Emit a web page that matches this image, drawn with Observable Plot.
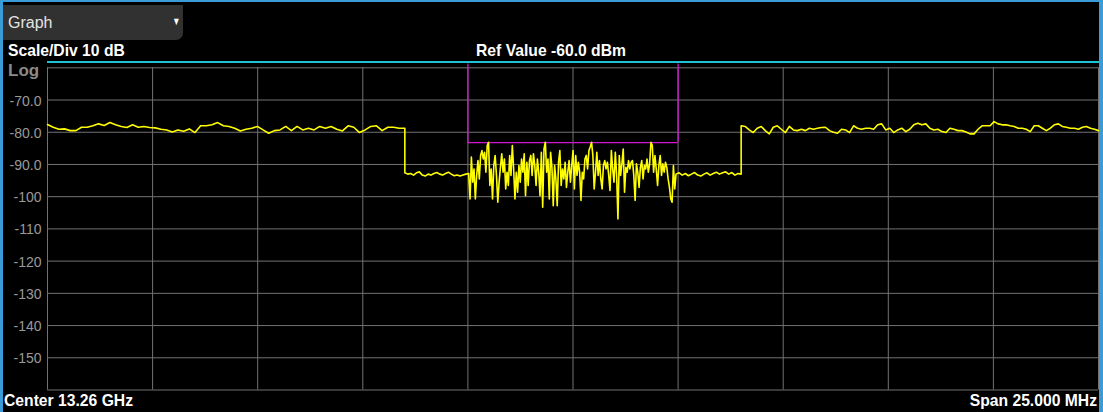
<!DOCTYPE html>
<html>
<head>
<meta charset="utf-8">
<script src="https://cdn.jsdelivr.net/npm/d3@7"></script>
<script src="https://cdn.jsdelivr.net/npm/@observablehq/plot@0.6"></script>
<style>
  html, body { margin: 0; padding: 0; background: #000; }
  #root { position: relative; width: 1103px; height: 412px; background: #000; overflow: hidden;
          font-family: "Liberation Sans", Arial, sans-serif; }
  .abs { position: absolute; }
  .hdr { color: #fff; font-weight: bold; font-size: 15.7px; line-height: 16px; white-space: nowrap; }
  #chart { position: absolute; left: 0; top: 60px; }
</style>
</head>
<body>
<div id="root">
  <div class="abs" style="left:0;top:0;width:3px;height:412px;background:#3b9bd6"></div>
  <div class="abs" style="left:0;top:0;width:1103px;height:2px;background:#3b9bd6"></div>
  <div class="abs" style="left:1099px;top:0;width:4px;height:412px;background:#3b9bd6"></div>
  <div class="abs" style="left:3px;top:5px;width:180px;height:35px;background:#313131;border-bottom-right-radius:7px"></div>
  <div class="abs" style="left:8px;top:14px;color:#e4e4e4;font-size:16px;line-height:17px">Graph</div>
  <div class="abs" style="left:171px;top:15px;color:#fff;font-size:11px;line-height:12px;transform:scaleX(0.75)">&#9660;</div>
  <div class="abs hdr" style="left:8px;top:43px">Scale/Div 10 dB</div>
  <div class="abs hdr" style="left:476px;top:43px">Ref Value -60.0 dBm</div>
  <div class="abs" style="left:47px;top:61px;width:1052px;height:2px;background:#1cc3d4"></div>
  <div class="abs" style="left:8px;top:62px;color:#8a8a8a;font-weight:bold;font-size:17px;line-height:18px">Log</div>
  <div id="chart"></div>
  <div class="abs hdr" style="left:4px;top:393px">Center 13.26 GHz</div>
  <div class="abs hdr" style="right:6px;top:393px">Span 25.000 MHz</div>
</div>
<script>
// Frequency offsets from center (MHz), span 25 MHz
const xGrid = [-12.5, -10, -7.5, -5, -2.5, 0, 2.5, 5, 7.5, 10, 12.5];
const yGrid = [-60, -70, -80, -90, -100, -110, -120, -130, -140, -150, -160];
const yTicks = [-70, -80, -90, -100, -110, -120, -130, -140, -150];
const yTickLabels = ["-70.0", "-80.0", "-90.0", "-100", "-110", "-120", "-130", "-140", "-150"];

// Channel mask (magenta)
const maskEdges = [-2.5, 2.5];
const maskLevel = -83.2;
const maskTop = -58.8;

// Trace segments: [start MHz, end MHz]
const segLeftRange = [-12.5, -4.0];
const segMidLeftRange = [-4.0, -2.48];
const segCenterRange = [-2.48, 2.42];
const segMidRightRange = [2.45, 4.0];
const segRightRange = [4.0, 12.5];

const levelsLeft = [-77.6, -78.45, -79.07, -78.96, -79.5, -79.5, -78.45, -78.45, -78.0, -77.4, -77.9, -77.0, -77.7, -78.2, -78.55, -77.7,
  -78.45, -78.2, -78.55, -78.65, -79.07, -79.28, -79.9, -79.28, -79.7, -78.96, -80.1, -78.0, -78.0, -77.7, -77.0, -78.0,
  -78.2, -78.75, -79.6, -79.07, -78.75, -78.2, -79.28, -80.3, -79.5, -79.28, -78.2, -79.5, -78.2, -79.28, -78.75, -79.28,
  -78.2, -78.75, -78.2, -79.07, -79.6, -78.0, -78.45, -80.1, -79.28, -78.2, -78.0, -79.5, -78.45, -78.45, -78.75, -78.75];

const levelsMidLeft = [-92.6, -93.0, -92.8, -93.3, -92.6, -92.3, -93.3, -93.6, -93.0, -93.3, -92.8, -92.5, -93.0, -93.3, -92.8, -92.4,
  -93.0, -93.5, -93.3, -93.6, -93.3, -93.0, -92.8];

const levelsCenter = [
  -93.4, -100.7, -87.7, -95.5, -91.4, -100.7, -93.4, -88.8, -94.5, -87.2, -85.7, -88.3, -86.2, -92.4, -84.1, -83.1,
  -96.5, -91.4, -100.7, -90.3, -87.2, -93.4, -101.7, -95.5, -90.9, -86.7, -92.4, -88.3, -97.6, -92.4, -96.5, -87.2,
  -93.4, -84.1, -91.4, -100.7, -92.4, -98.6, -90.3, -95.5, -88.3, -92.4, -86.7, -99.7, -89.3, -96.5, -88.8, -87.2,
  -93.4, -86.7, -90.3, -96.5, -88.3, -92.4, -99.7,
  -86.2, -103.3, -85.2, -83.1, -92.4, -88.3, -100.7, -86.2, -90.9, -102.8, -90.3, -94.5, -102.8, -89.3, -85.7, -96.5,
  -91.4, -94.5, -89.3, -97.1, -92.4, -88.8, -95.5, -90.3, -85.7, -97.6, -87.2, -93.4, -89.3, -92.4, -101.2, -92.4,
  -94.5, -88.3, -87.2, -91.4, -85.7, -84.6, -83.1, -87.2, -97.6, -92.4, -86.2, -93.4, -88.8, -94.5, -97.6, -90.3,
  -88.8, -91.4, -89.3, -93.4, -98.1, -85.7, -91.4,
  -95.5, -86.2, -93.4, -106.9, -87.2, -93.4, -89.8, -85.2, -98.6, -90.9, -92.4, -88.8, -91.4, -89.3, -88.8, -93.4,
  -101.2, -89.8, -92.4, -97.1, -90.9, -88.8, -94.5, -90.3, -91.4, -88.3, -92.4, -89.8, -83.1, -84.1, -92.4, -87.2,
  -91.4, -96.5, -90.3, -87.2, -93.4, -89.8, -92.4, -89.3, -90.9, -94.5, -97.1, -100.7, -101.7, -90.3, -97.6];

const levelsMidRight = [-93.0, -92.6, -93.3, -92.8, -93.5, -93.0, -92.5, -93.3, -93.6, -93.0, -92.6, -93.3, -92.8, -92.4, -93.0, -92.6,
  -92.3, -93.0, -92.5, -93.3, -92.8, -93.0];

const levelsRight = [-78.0, -78.2, -79.28, -80.1, -78.75, -78.2, -79.5, -80.5, -78.45, -78.0, -79.07, -80.1, -78.2, -79.28, -79.5, -79.07,
  -79.5, -78.75, -79.07, -78.75, -78.55, -78.45, -79.5, -80.0, -80.3, -79.07, -79.28, -80.1, -78.0, -78.75, -79.07, -78.75,
  -78.75, -79.07, -77.7, -77.4, -79.28, -78.75, -80.1, -79.28, -78.75, -79.8, -79.07, -77.7, -77.2, -77.7, -77.4, -78.75,
  -79.28, -79.07, -79.8, -80.1, -78.75, -79.07, -79.5, -79.5, -79.9, -80.5, -80.5, -79.07, -78.0, -78.0, -78.0, -76.7,
  -77.4, -77.7, -77.7, -78.0, -78.2, -78.75, -78.75, -79.07, -79.8, -78.0, -78.0, -78.75, -79.5, -78.75, -77.7, -77.4,
  -78.2, -78.45, -78.75, -78.75, -79.07, -78.45, -78.2, -78.75, -79.07, -79.5];

const segments = [
  [segLeftRange, levelsLeft],
  [segMidLeftRange, levelsMidLeft],
  [segCenterRange, levelsCenter],
  [segMidRightRange, levelsMidRight],
  [segRightRange, levelsRight]
];

const trace = [];
for (const [[a, b], vals] of segments) {
  vals.forEach((v, i) => trace.push({f: a + (b - a) * i / (vals.length - 1), dbm: v}));
}

const magenta = "#d014d0";
const chart = Plot.plot({
  width: 1103,
  height: 335,
  marginLeft: 47,
  marginRight: 5,
  marginTop: 7.3,
  marginBottom: 5.5,
  x: {domain: [-12.5, 12.5], axis: null},
  y: {domain: [-160, -60], axis: null},
  style: {background: "transparent", fontFamily: "'Liberation Sans', Arial, sans-serif", overflow: "visible"},
  marks: [
    Plot.gridX(xGrid, {stroke: "#727272", strokeOpacity: 1, strokeWidth: 1}),
    Plot.gridY(yGrid, {stroke: "#727272", strokeOpacity: 1, strokeWidth: 1}),
    Plot.axisY(yTicks, {
      label: null, tickSize: 0, tickPadding: 6, fill: "#9a9a9a", fontSize: 14, dy: 1,
      tickFormat: d => yTickLabels[yTicks.indexOf(d)]
    }),
    Plot.ruleX(maskEdges, {y1: maskTop, y2: maskLevel, stroke: magenta, strokeWidth: 1.3}),
    Plot.ruleY([maskLevel], {x1: maskEdges[0], x2: maskEdges[1], stroke: magenta, strokeWidth: 1.3}),
    Plot.line(trace, {x: "f", y: "dbm", stroke: "#ffff00", strokeWidth: 1.6, curve: "linear"})
  ]
});
document.getElementById("chart").appendChild(chart);
</script>
</body>
</html>
